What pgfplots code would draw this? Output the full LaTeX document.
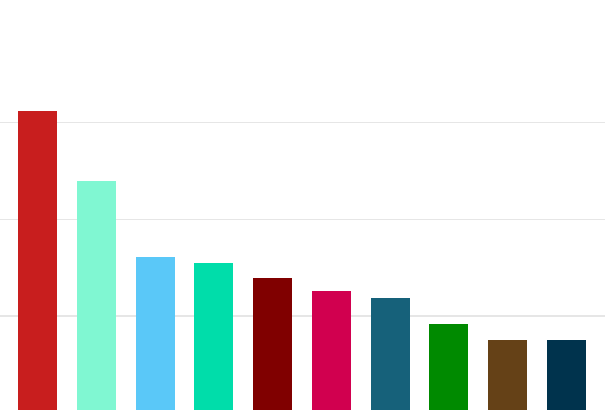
\documentclass[border=0pt]{standalone}
\usepackage{pgfplots}
\pgfplotsset{compat=1.18}

\definecolor{c1}{HTML}{C81E1E}
\definecolor{c2}{HTML}{80F7D2}
\definecolor{c3}{HTML}{5AC8F8}
\definecolor{c4}{HTML}{00DDAA}
\definecolor{c5}{HTML}{800000}
\definecolor{c6}{HTML}{D1004F}
\definecolor{c7}{HTML}{16617A}
\definecolor{c8}{HTML}{008A00}
\definecolor{c9}{HTML}{654117}
\definecolor{c10}{HTML}{00334D}
\definecolor{gridc}{HTML}{E6E6E6}

\begin{document}
\begin{tikzpicture}
  \begin{axis}[
      scale only axis,
      width=605pt,
      height=410pt,
      xmin=-0.638, xmax=9.655,
      ymin=0.028, ymax=4.268,
      ybar,
      bar width=0.663,
      bar shift=0pt,
      axis line style={draw=none},
      tick style={draw=none},
      xtick=\empty,
      ytick={1,2,3},
      yticklabels={},
      ymajorgrids,
      grid style={gridc, line width=1.4pt},
      clip=true,
    ]
    \addplot[fill=c1, draw=none] coordinates {(0,3.12)};
    \addplot[fill=c2, draw=none] coordinates {(1,2.40)};
    \addplot[fill=c3, draw=none] coordinates {(2,1.613)};
    \addplot[fill=c4, draw=none] coordinates {(3,1.548)};
    \addplot[fill=c5, draw=none] coordinates {(4,1.389)};
    \addplot[fill=c6, draw=none] coordinates {(5,1.255)};
    \addplot[fill=c7, draw=none] coordinates {(6,1.190)};
    \addplot[fill=c8, draw=none] coordinates {(7,0.914)};
    \addplot[fill=c9, draw=none] coordinates {(8,0.749)};
    \addplot[fill=c10, draw=none] coordinates {(9,0.749)};
  \end{axis}
  \pgfresetboundingbox
  \path (current axis.south west) rectangle (current axis.north east);
\end{tikzpicture}
\end{document}
